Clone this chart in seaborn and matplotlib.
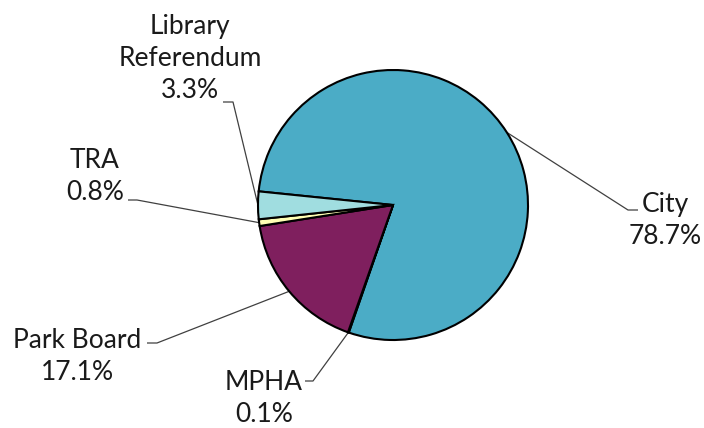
import numpy as np
import matplotlib
matplotlib.use("Agg")
import matplotlib.pyplot as plt
import seaborn as sns

# Budget shares by agency
categories = ["City", "MPHA", "Park Board", "TRA", "Library\nReferendum"]
shares = [78.7, 0.1, 17.1, 0.8, 3.3]
colors = ["#4BACC6", "#F4A261", "#7F1F5E", "#FFFFB4", "#A0DDE0"]

sns.set_theme(style="white")
plt.rcParams["font.family"] = ["Lato", "DejaVu Sans"]

W, H = 704, 428
fig = plt.figure(figsize=(W / 100, H / 100), dpi=100)
ax = fig.add_axes([0, 0, 1, 1])

cx, cy, r = 393, H - 205, 135
start = 174.2
wedges, _ = ax.pie(
    shares, colors=colors, startangle=start, counterclock=False,
    center=(cx, cy), radius=r,
    wedgeprops=dict(edgecolor="black", linewidth=1.5),
)
ax.set_xlim(0, W)
ax.set_ylim(0, H)
ax.set_aspect("equal")
ax.axis("off")

# label block centre, elbow point and text-side end of the leader (pixel space, y down)
label_pos = {
    "City": ((665, 220), (628, 210), (638, 210)),
    "MPHA": ((264, 398), (313, 381), (305, 381)),
    "Park Board": ((77, 356), (157, 343), (147, 343)),
    "TRA": ((95, 176), (137, 200), (128, 200)),
    "Library\nReferendum": ((190, 58), (233, 102), (223, 102)),
}

for w, name, val in zip(wedges, categories, shares):
    mid = np.deg2rad((w.theta1 + w.theta2) / 2)
    ex, ey = cx + r * np.cos(mid), cy + r * np.sin(mid)
    (tx, ty), (bx, by), (sx, sy) = label_pos[name]
    ax.plot([ex, bx, sx], [ey, H - by, H - sy], color="#404040", lw=0.9,
            solid_capstyle="butt", zorder=0.5)
    ax.text(tx, H - ty, f"{name}\n{val:.1f}%", ha="center", va="center",
            fontsize=19, color="#1a1a1a", linespacing=1.35)

fig.savefig("out.png", dpi=100)
